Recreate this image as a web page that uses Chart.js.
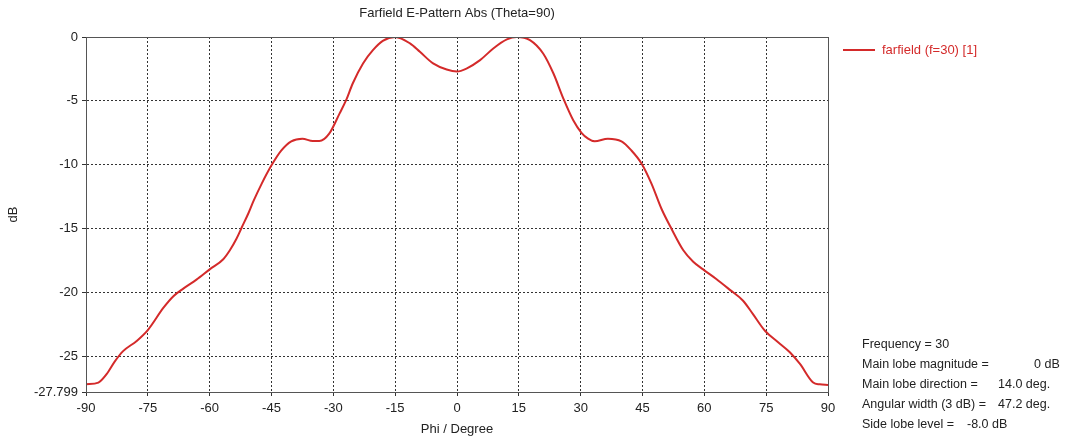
<!DOCTYPE html>
<html>
<head>
<meta charset="utf-8">
<title>Farfield E-Pattern Abs (Theta=90)</title>
<script src="https://cdn.jsdelivr.net/npm/chart.js@4/dist/chart.umd.min.js"></script>
<style>
  html, body { margin: 0; padding: 0; background: #fff; }
  #wrap { width: 1068px; height: 440px; }
</style>
</head>
<body>
<div id="wrap"><canvas id="chart-canvas" width="1068" height="440"></canvas></div>
<script>
// Phi angles (degrees) and gain (dB)
const phi = [-90, -87, -85, -83, -81, -77.7, -75, -71.2, -68.8, -66.4, -63.2, -60, -56.7, -55.1, -53.5,
  -52.2, -50.6, -49.3, -47.4, -45, -42.6, -40.2, -37.5, -35, -33.4, -31, -28.5, -26.9, -25.3, -22.8,
  -20.4, -18, -15, -11.4, -9, -5.8, -2.5, 0, 2.3, 5.6, 8.8, 12.1, 14.5, 17.7, 20.9, 23.4, 25.8, 28.2,
  30.2, 31.8, 33.4, 36.6, 39.9, 42.3, 44.8, 47.2, 49.6, 52, 54.9, 57.3, 59.7, 62.9, 66.2, 69.4, 71.8,
  74.7, 77.9, 80.8, 83.2, 86.4, 88, 90];
const gain = [-27.2, -27.06, -26.4, -25.4, -24.6, -23.8, -22.95, -21.2, -20.3, -19.7, -19.0, -18.2, -17.4, -16.7, -15.8,
  -14.9, -13.8, -12.8, -11.5, -10.05, -8.88, -8.17, -7.96, -8.15, -8.15, -7.57, -6.0, -4.95, -3.64, -2.07,
  -1.03, -0.3, 0, -0.5, -1.16, -2.07, -2.55, -2.7, -2.47, -1.81, -0.9, -0.19, 0, -0.24, -1.29, -2.86, -4.82, -6.52,
  -7.5, -7.96, -8.17, -7.96, -8.17, -8.88, -9.92, -11.5, -13.45, -15.0, -16.7, -17.6, -18.2, -18.95, -19.8, -20.65, -21.7,
  -23.0, -23.9, -24.7, -25.6, -27.06, -27.2, -27.25];

const yTicks = [-27.799, -25, -20, -15, -10, -5, 0];
const seriesName = "farfield (f=30) [1]";
const chartTitle = "Farfield E-Pattern Abs (Theta=90)";
const statLabels = ["Frequency = 30", "Main lobe magnitude =", "Main lobe direction =", "Angular width (3 dB) =", "Side lobe level ="];
const statValues = ["", "0 dB", "14.0 deg.", "47.2 deg.", "-8.0 dB"];
const statValueX = [0, 1034, 998, 998, 967];

const lineColor = "#d42a2a";
const fontFamily = "'Liberation Sans', Arial, sans-serif";

// Draws title, frame, legend and the info block
const decorPlugin = {
  id: "decor",
  afterDraw(chart) {
    const { ctx, chartArea } = chart;
    ctx.save();
    // frame
    ctx.strokeStyle = "#555";
    ctx.lineWidth = 1;
    ctx.strokeRect(chartArea.left + 0.5, chartArea.top + 0.5, chartArea.right - chartArea.left, chartArea.bottom - chartArea.top);

    // title
    ctx.fillStyle = "#222";
    ctx.font = "13px " + fontFamily;
    ctx.textAlign = "center";
    ctx.textBaseline = "middle";
    ctx.fillText(chartTitle, (chartArea.left + chartArea.right) / 2, 13);

    // legend
    ctx.strokeStyle = lineColor;
    ctx.lineWidth = 2;
    ctx.beginPath();
    ctx.moveTo(843, 50);
    ctx.lineTo(875, 50);
    ctx.stroke();
    ctx.fillStyle = lineColor;
    ctx.textAlign = "left";
    ctx.fillText(seriesName, 882, 50);

    // info block
    ctx.fillStyle = "#222";
    ctx.font = "12.5px " + fontFamily;
    statLabels.forEach((label, i) => {
      const y = 345 + i * 20;
      ctx.fillText(label, 862, y);
      if (statValues[i]) ctx.fillText(statValues[i], statValueX[i], y);
    });
    ctx.restore();
  },
};

const ctx = document.getElementById("chart-canvas").getContext("2d");
const myChart = new Chart(ctx, {
  type: "line",
  data: {
    datasets: [
      {
        label: seriesName,
        data: phi.map((p, i) => ({ x: p, y: gain[i] })),
        borderColor: lineColor,
        borderWidth: 2,
        pointRadius: 0,
        tension: 0.4,
        cubicInterpolationMode: "monotone",
      },
    ],
  },
  options: {
    responsive: false,
    animation: false,
    layout: { padding: { left: 0, right: 240, top: 37, bottom: 0 } },
    plugins: {
      legend: { display: false },
      title: { display: false },
      tooltip: { enabled: false },
    },
    scales: {
      x: {
        type: "linear",
        min: -90,
        max: 90,
        afterFit: (scale) => { scale.height = 48; },
        ticks: { stepSize: 15, color: "#222", font: { family: fontFamily, size: 13 }, padding: 5, maxRotation: 0 },
        grid: { color: "#333", lineWidth: 1, tickLength: 4, tickColor: "#333", tickBorderDash: [] },
        border: { display: true, color: "#555", dash: [2, 2] },
        title: { display: true, text: "Phi / Degree", color: "#222", font: { family: fontFamily, size: 13 }, padding: { top: 0, bottom: 3 } },
      },
      y: {
        min: -27.799,
        max: 0,
        afterFit: (scale) => { scale.width = 86; },
        afterBuildTicks: (scale) => { scale.ticks = yTicks.map((v) => ({ value: v })); },
        ticks: {
          color: "#222",
          font: { family: fontFamily, size: 13 },
          padding: 4,
          callback: (v) => String(v),
        },
        grid: { color: "#333", lineWidth: 1, tickLength: 4, tickColor: "#333", tickBorderDash: [] },
        border: { display: true, color: "#555", dash: [2, 2] },
        title: { display: true, text: "dB", color: "#222", font: { family: fontFamily, size: 13 }, padding: { top: 6, bottom: 0 } },
      },
    },
  },
  plugins: [decorPlugin],
});
</script>
</body>
</html>
